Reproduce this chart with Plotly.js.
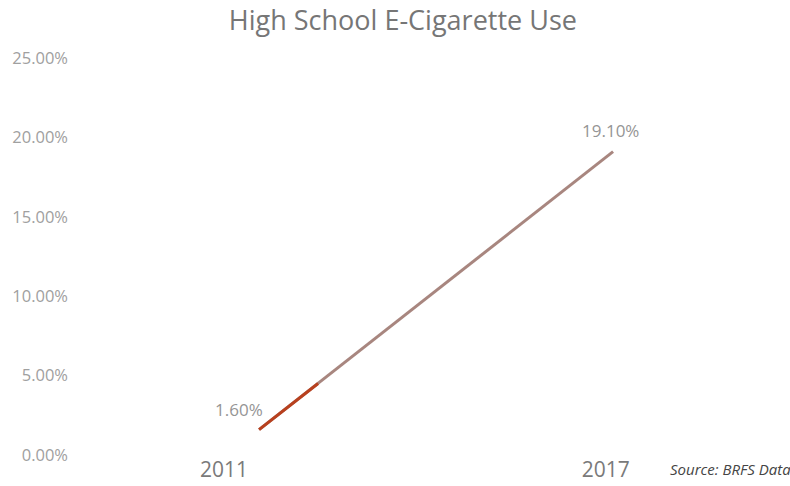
<!DOCTYPE html>
<html>
<head>
<meta charset="utf-8">
<script src="https://cdn.plot.ly/plotly-3.0.1.min.js"></script>
<style>html,body{margin:0;padding:0;background:#fff}#chart{width:790px;height:486px}</style>
</head>
<body>
<div id="chart"></div>
<script>
// Data
const years = [2011, 2017];
const usePct = [0.016, 0.191];
const pointLabels = ['1.60%', '19.10%'];
// highlighted start segment (colour change)
const segYears = [2011, 2012];
const segPct = [0.016, 0.045];
const tickYears = [2011, 2017];
const tickLabels = ['2011', '2017'];
const yTicks = [0, 0.05, 0.10, 0.15, 0.20, 0.25];

const font = '"Open Sans", "Noto Sans", sans-serif';

const traces = [
  {
    x: years, y: usePct, type: 'scatter', mode: 'lines',
    line: {color: '#a8867f', width: 3},
    hoverinfo: 'skip', showlegend: false
  },
  {
    x: segYears, y: segPct, type: 'scatter', mode: 'lines',
    line: {color: '#b8401e', width: 3},
    hoverinfo: 'skip', showlegend: false
  },
  {
    // invisible trace to carry the year tick axis
    x: tickYears, y: [null, null], xaxis: 'x2', type: 'scatter', mode: 'lines',
    hoverinfo: 'skip', showlegend: false
  }
];

const labelOffsets = [{xshift: -20, yshift: 20}, {xshift: -3, yshift: 21}];
const pointAnnotations = years.map((yr, i) => ({
  x: yr, y: usePct[i], xref: 'x', yref: 'y', text: pointLabels[i],
  showarrow: false, xanchor: 'center', yanchor: 'middle',
  xshift: labelOffsets[i].xshift, yshift: labelOffsets[i].yshift,
  font: {family: font, size: 17, color: '#959595'}
}));

const layout = {
  width: 790, height: 486,
  paper_bgcolor: '#ffffff', plot_bgcolor: '#ffffff',
  margin: {l: 75, r: 20, t: 58, b: 31},
  title: {
    text: 'High School E-Cigarette Use',
    x: 0.51, xanchor: 'center', y: 0.958, yanchor: 'middle',
    font: {family: font, size: 27, color: '#767676'}
  },
  xaxis: {
    range: [2007.88, 2019.66],
    showticklabels: false, showgrid: false, zeroline: false, showline: false, ticks: ''
  },
  xaxis2: {
    overlaying: 'x', side: 'bottom',
    range: [2008.66, 2019.58],
    tickmode: 'array', tickvals: tickYears, ticktext: tickLabels,
    tickfont: {family: font, size: 21, color: '#7a7a7a'},
    showgrid: false, zeroline: false, showline: false, ticks: ''
  },
  yaxis: {
    range: [0, 0.25],
    tickmode: 'array', tickvals: yTicks, tickformat: '.2%',
    tickfont: {family: font, size: 16.5, color: '#a0a0a0'},
    ticklabelstandoff: 6,
    showgrid: false, zeroline: false, showline: false, ticks: '', ticklen: 0
  },
  annotations: pointAnnotations.concat([
    {
      text: '<i>Source: BRFS Data</i>', xref: 'paper', yref: 'paper',
      x: 0.853, y: -0.035, xanchor: 'left', yanchor: 'middle', showarrow: false,
      font: {family: font, size: 15, color: '#444444'}
    }
  ])
};

Plotly.newPlot('chart', traces, layout, {displayModeBar: false, staticPlot: true});
</script>
</body>
</html>
